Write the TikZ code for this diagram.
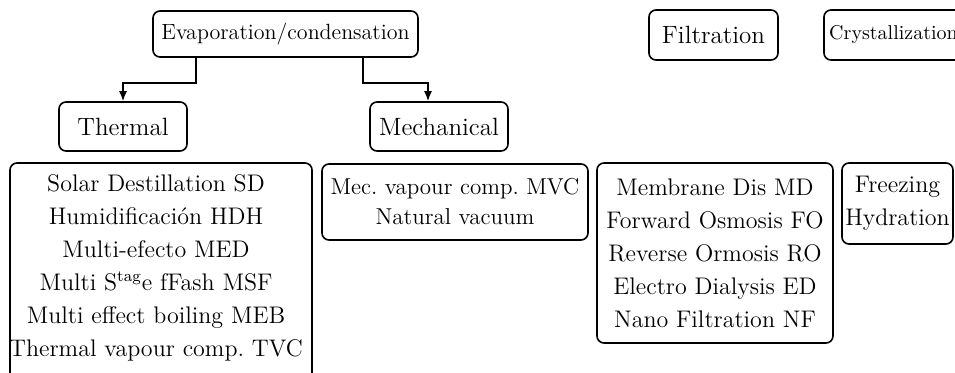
\documentclass[tikz,border=0pt]{standalone}
\usepackage{tikz}
\usetikzlibrary{arrows.meta}
\usetikzlibrary{positioning}
\tikzset{box/.style = {draw, rounded corners=3.5pt, line width=0.8pt, inner sep=0,
                       align=center}}
\tikzset{head/.style = {box, font=\fontsize{12.5}{14}\selectfont}}
\tikzset{items/.style = {align=center, font=\fontsize{12}{16.5}\selectfont}}
\tikzset{link/.style = {line width=0.8pt, -{Latex[length=5pt, width=4pt]}}}

\begin{document}
\begin{tikzpicture}[x=0.5pt, y=-0.5pt]
    \useasboundingbox (0, 0) rectangle (955, 373);

    \node [box, font=\fontsize{11}{13}\selectfont, minimum width=132.5pt, minimum height=23pt]
      (evap) at (285.5, 34) {Evaporation/condensation};
    \node [head, minimum width=64pt, minimum height=24.5pt] (thermal) at (123, 126.5) {Thermal};
    \node [head, minimum width=69pt, minimum height=24.5pt] (mech) at (439, 126.5) {Mechanical};
    \node [head, minimum width=64.5pt, minimum height=25pt] (filt) at (713.5, 35) {Filtration};
    \node [box, font=\fontsize{10}{12}\selectfont, minimum width=69.5pt, minimum height=25pt]
      (cryst) at (893.5, 35) {Crystallization};

    \draw [link] ([xshift=-44.75pt]evap.south) -- ++(0, 25) -| (thermal.north);
    \draw [link] ([xshift=38.75pt]evap.south) -- ++(0, 25) -| ([xshift=-5.5pt]mech.north);

    % lists
    \node [items] (tlist) at (156, 268) {Solar Destillation SD\\
      Humidificación HDH\\ Multi-efecto MED\\ Multi S\textsuperscript{tag}e fFash MSF\\
      Multi effect boiling MEB\\ Thermal vapour comp.\ TVC};
    \draw [box] (10, 163) rectangle (312, 390);
    \node [box, items, font=\fontsize{11.5}{15}\selectfont, minimum width=133pt, minimum height=38pt]
      (mlist) at (455, 202) {Mec.\ vapour comp.\ MVC\\ Natural vacuum};
    \node [box, items, minimum width=118pt, minimum height=90pt]
      (flist) at (715, 253) {Membrane Dis MD\\ Forward Osmosis FO\\ Reverse Ormosis RO\\
      Electro Dialysis ED\\ Nano Filtration NF};
    \node [box, items, minimum width=55.5pt, minimum height=40.5pt]
      (freeze) at (897.5, 203.5) {Freezing\\ Hydration};
  \end{tikzpicture}
\end{document}
